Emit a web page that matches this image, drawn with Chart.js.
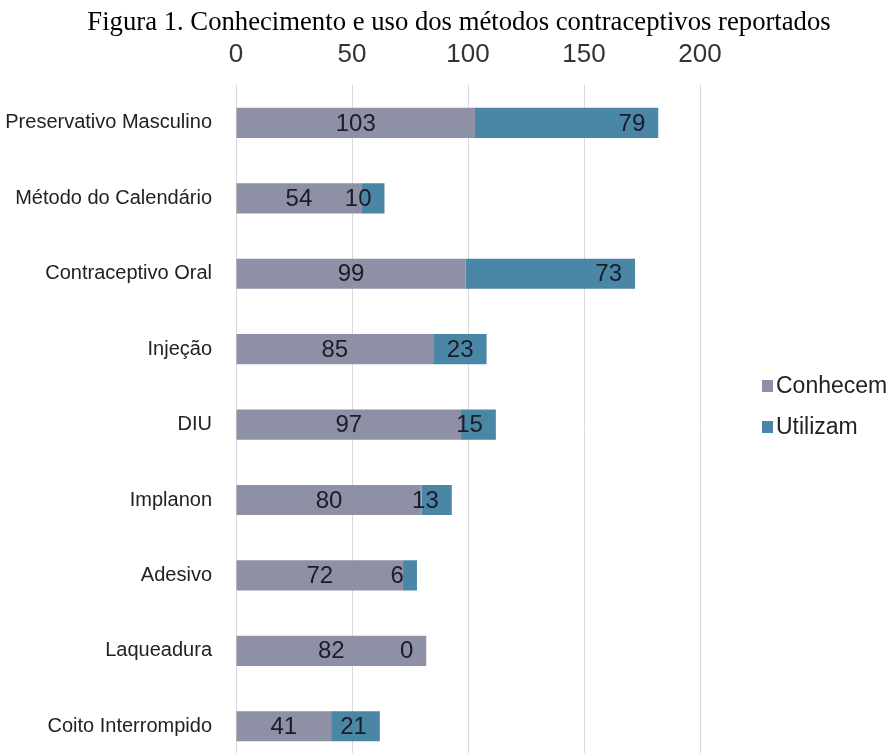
<!DOCTYPE html>
<html>
<head>
<meta charset="utf-8">
<script src="https://cdn.jsdelivr.net/npm/chart.js@4.4.0/dist/chart.umd.min.js"></script>
<style>
  body { margin: 0; overflow: hidden; background: #fff; }
  #title {
    position: absolute; top: 7px; left: 0; width: 896px;
    text-align: center; padding-left: 22px; box-sizing: border-box;
    font-family: "Liberation Serif", serif; font-size: 26.7px; color: #000;
    line-height: 1.1;
  }
  #myChart { position: absolute; top: 0; left: 0; }
</style>
</head>
<body>
<canvas id="myChart" width="896" height="768"></canvas>
<div id="title">Figura 1. Conhecimento e uso dos métodos contraceptivos reportados</div>
<script>
var metodos = ['Preservativo Masculino', 'Método do Calendário', 'Contraceptivo Oral', 'Injeção', 'DIU', 'Implanon', 'Adesivo', 'Laqueadura', 'Coito Interrompido'];
var conhecem = [103, 54, 99, 85, 97, 80, 72, 82, 41];
var utilizam = [79, 10, 73, 23, 15, 13, 6, 0, 21];
var xTicks = [0, 50, 100, 150, 200];

// labels on the bars: first series centred, second right-aligned at the end
var barLabels = {
  id: 'barLabels',
  afterDatasetsDraw: function(chart) {
    var ctx = chart.ctx;
    ctx.save();
    ctx.font = '24px "Liberation Sans", Arial, sans-serif';
    ctx.fillStyle = '#1c1c28';
    ctx.textBaseline = 'middle';
    chart.data.datasets.forEach(function(ds, di) {
      var meta = chart.getDatasetMeta(di);
      meta.data.forEach(function(bar, i) {
        if (di === 0) {
          ctx.textAlign = 'center';
          ctx.fillText(ds.data[i], (bar.x + bar.base) / 2, bar.y + 1);
        } else {
          ctx.textAlign = 'right';
          ctx.fillText(ds.data[i], bar.x - 13, bar.y + 1);
        }
      });
    });
    ctx.restore();
  }
};

// legend on the right
var sideLegend = {
  id: 'sideLegend',
  afterDraw: function(chart) {
    var ctx = chart.ctx;
    ctx.save();
    ctx.font = '23px "Liberation Sans", Arial, sans-serif';
    ctx.textBaseline = 'middle';
    ctx.textAlign = 'left';
    var ys = [386, 427];
    chart.data.datasets.forEach(function(ds, i) {
      ctx.fillStyle = ds.backgroundColor;
      ctx.fillRect(762, ys[i] - 6, 11, 12);
      ctx.fillStyle = '#222';
      ctx.fillText(ds.label, 776, ys[i] + 1);
    });
    ctx.restore();
  }
};

var ctx = document.getElementById('myChart').getContext('2d');
var myChart = new Chart(ctx, {
  type: 'bar',
  data: {
    labels: metodos,
    datasets: [{
      label: 'Conhecem',
      data: conhecem,
      backgroundColor: '#8e90a5',
      barPercentage: 0.8,
      categoryPercentage: 0.5
    }, {
      label: 'Utilizam',
      data: utilizam,
      backgroundColor: '#4a86a6',
      barPercentage: 0.8,
      categoryPercentage: 0.5
    }]
  },
  options: {
    indexAxis: 'y',
    responsive: false,
    animation: false,
    devicePixelRatio: 1,
    layout: { padding: { top: 24, right: 196, bottom: 4, left: 0 } },
    plugins: {
      legend: { display: false },
      tooltip: { enabled: false }
    },
    scales: {
      x: {
        position: 'top',
        stacked: true,
        min: 0,
        max: 200,
        afterBuildTicks: function(scale) {
          scale.ticks = xTicks.map(function(v) { return { value: v }; });
        },
        grid: { color: '#d9d9d9', drawTicks: false },
        border: { display: false },
        ticks: {
          padding: 15,
          color: '#333',
          font: { family: '"Liberation Sans", Arial, sans-serif', size: 26 }
        }
      },
      y: {
        stacked: true,
        afterFit: function(scale) {
          scale.width = 236;
          scale.paddingTop = 0;
          scale.paddingBottom = 0;
        },
        grid: { display: false, drawTicks: false },
        border: { display: false },
        ticks: {
          padding: 24,
          color: '#222',
          font: { family: '"Liberation Sans", Arial, sans-serif', size: 20 }
        }
      }
    }
  },
  plugins: [barLabels, sideLegend]
});
</script>
</body>
</html>
